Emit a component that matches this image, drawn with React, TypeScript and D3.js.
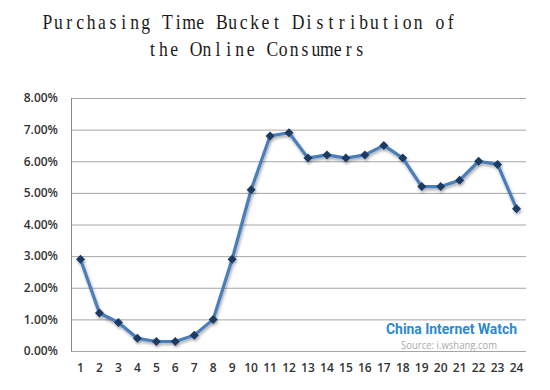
import React from "react";
import * as d3 from "d3";

const hours = d3.range(1, 25).map(String);
const shares = [2.9, 1.2, 0.9, 0.4, 0.3, 0.3, 0.5, 1.0, 2.9, 5.1, 6.8, 6.9, 6.1, 6.2, 6.1, 6.2, 6.5, 6.1, 5.2, 5.2, 5.4, 6.0, 5.9, 4.5];
const yTicks = [0, 1, 2, 3, 4, 5, 6, 7, 8];
const titleLines = ["Purchasing Time Bucket Distribution of", "the Online Consumers"];

function MonoLine({ text, x0, y0, cell, sx }: { text: string; x0: number; y0: number; cell: number; sx: number }) {
  const xs = Array.from(text).map((_, i) => ((x0 + (i + 0.5) * cell) / sx).toFixed(2)).join(" ");
  return (
    <text transform={`scale(${sx},1)`} x={xs} y={y0} textAnchor="middle" fontFamily="'Liberation Serif', serif" fontSize={22} fill="#1a1a1a" style={{ whiteSpace: "pre" }}>
      {text}
    </text>
  );
}

export default function App() {
  const W = 550, H = 390;
  const left = 71, right = 526, top = 98, bottom = 351;
  const x = d3.scaleBand().domain(hours).range([left, right]);
  const y = d3.scaleLinear().domain([0, 8]).range([bottom, top]);
  const cx = (h: string) => (x(h) as number) + x.bandwidth() / 2;
  const line = d3.line<number>().x((_, i) => cx(hours[i])).y((d) => y(d));
  const path = line(shares) as string;
  const axisFont = "'Open Sans', sans-serif";
  return (
    <svg width={W} height={H} style={{ position: "absolute", left: 0, top: 0, background: "#fff" }}>
      <defs>
        <filter id="sh" x="-20%" y="-20%" width="140%" height="140%">
          <feGaussianBlur in="SourceAlpha" stdDeviation="1.5" />
          <feOffset dx="1" dy="2" result="b" />
          <feComponentTransfer><feFuncA type="linear" slope="0.35" /></feComponentTransfer>
          <feMerge><feMergeNode /><feMergeNode in="SourceGraphic" /></feMerge>
        </filter>
      </defs>
      <MonoLine text={titleLines[0]} x0={42} y0={29} cell={10.9} sx={0.8} />
      <MonoLine text={titleLines[1]} x0={147} y0={56} cell={10.9} sx={0.8} />
      {yTicks.map((t) => (
        <g key={t}>
          <line x1={left} x2={right} y1={y(t) + 0.5} y2={y(t) + 0.5} stroke="#a6a6a6" strokeWidth={1} />
          <text x={58} y={y(t)} dy="0.36em" textAnchor="end" fontFamily={axisFont} fontSize={12} fill="#333" fontWeight={600}>{t.toFixed(2) + "%"}</text>
        </g>
      ))}
      <line x1={left + 0.5} x2={left + 0.5} y1={top} y2={bottom} stroke="#888" strokeWidth={1} />
      {hours.map((h) => (
        <text key={h} x={cx(h)} y={372} textAnchor="middle" fontFamily={axisFont} fontSize={12} fill="#333" fontWeight={600}>{h}</text>
      ))}
      <text x={386} y={334} fontFamily="Roboto, sans-serif" fontWeight="bold" fontSize={15} fill="#2a8ad2" textLength={131} lengthAdjust="spacingAndGlyphs">China Internet Watch</text>
      <text x={401} y={349} fontFamily="'Open Sans', sans-serif" fontSize={10} fill="#aaaaaa" textLength={96} lengthAdjust="spacingAndGlyphs">Source: i.wshang.com</text>
      <g filter="url(#sh)">
        <path d={path} fill="none" stroke="#4a7ebb" strokeWidth={3.2} strokeLinejoin="round" />
        {shares.map((v, i) => {
          const px = cx(hours[i]), py = y(v), r = 4.5;
          return <path key={i} d={`M${px},${py - r}L${px + r},${py}L${px},${py + r}L${px - r},${py}Z`} fill="#1b3a63" />;
        })}
      </g>
    </svg>
  );
}
